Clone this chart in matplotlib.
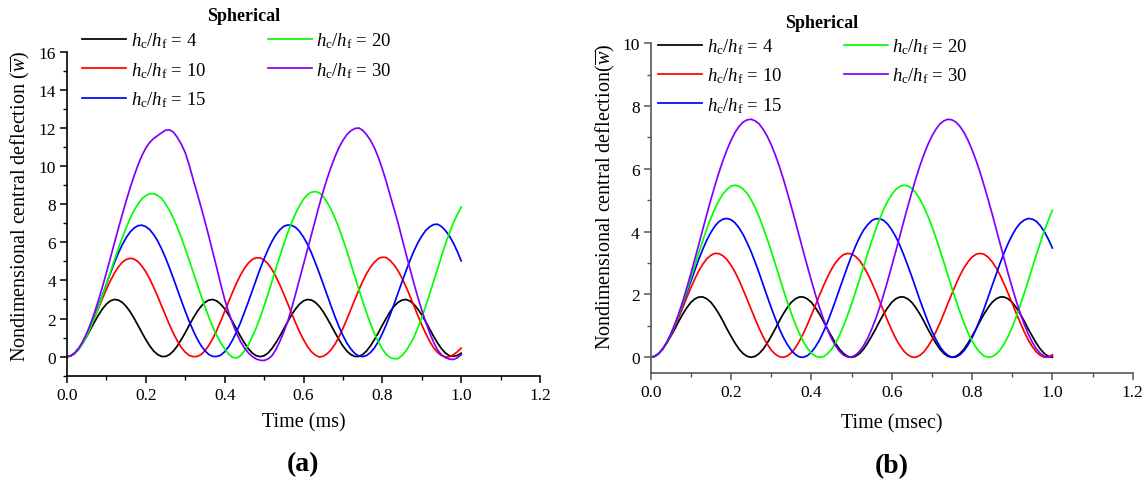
import numpy as np
import matplotlib
matplotlib.use('Agg')
import matplotlib.pyplot as plt
from matplotlib.ticker import MultipleLocator

# sample times (ms), one value every 0.01
TIME = np.linspace(0.0, 1.0, 101)

COLORS = {4: '#000000', 10: '#ff0000', 15: '#0000ff', 20: '#00ff00', 30: '#8000ff'}

# (a) nondimensional central deflection
a_w4 = [0, 0.05, 0.19, 0.42, 0.72, 1.07, 1.45, 1.83, 2.19, 2.51, 2.76, 2.93, 3.00, 2.97,
        2.85, 2.64, 2.36, 2.02, 1.64, 1.26, 0.89, 0.56, 0.29, 0.11, 0.01, 0.01, 0.11, 0.30,
        0.57, 0.90, 1.26, 1.65, 2.02, 2.36, 2.64, 2.85, 2.97, 3.00, 2.92, 2.75, 2.51, 2.19,
        1.83, 1.45, 1.07, 0.72, 0.42, 0.19, 0.05, 0.0, 0.05, 0.19, 0.43, 0.73, 1.08, 1.46,
        1.84, 2.20, 2.51, 2.76, 2.93, 3.00, 2.97, 2.85, 2.64, 2.36, 2.01, 1.64, 1.26, 0.89,
        0.56, 0.29, 0.11, 0.01, 0.01, 0.11, 0.30, 0.57, 0.90, 1.26, 1.65, 2.02, 2.37, 2.65,
        2.85, 2.97, 3.00, 2.92, 2.75, 2.50, 2.19, 1.83, 1.45, 1.07, 0.72, 0.42, 0.19, 0.05,
        0.02, 0.06, 0.18]
a_w10 = [0, 0.05, 0.19, 0.43, 0.75, 1.13, 1.58, 2.06, 2.55, 3.06, 3.54, 3.98, 4.38, 4.70,
         4.95, 5.10, 5.16, 5.12, 4.99, 4.75, 4.45, 4.07, 3.63, 3.16, 2.66, 2.16, 1.67, 1.22,
         0.82, 0.48, 0.23, 0.07, 0.0, 0.01, 0.11, 0.31, 0.60, 0.96, 1.39, 1.87, 2.37, 2.88,
         3.38, 3.86, 4.28, 4.63, 4.91, 5.10, 5.19, 5.18, 5.07, 4.87, 4.57, 4.20, 3.76, 3.28,
         2.78, 2.27, 1.77, 1.30, 0.89, 0.53, 0.26, 0.08, -0.02, 0.02, 0.15, 0.36, 0.66, 1.04,
         1.48, 1.97, 2.47, 2.99, 3.48, 3.95, 4.36, 4.70, 4.96, 5.15, 5.22, 5.20, 5.04, 4.81,
         4.50, 4.11, 3.67, 3.18, 2.68, 2.16, 1.67, 1.22, 0.81, 0.47, 0.22, 0.06, -0.02, -0.01,
         0.10, 0.25, 0.45]
a_w15 = [0, 0.05, 0.19, 0.43, 0.75, 1.14, 1.60, 2.12, 2.66, 3.23, 3.81, 4.38, 4.92, 5.42,
         5.87, 6.24, 6.54, 6.75, 6.87, 6.90, 6.82, 6.66, 6.40, 6.07, 5.65, 5.18, 4.65, 4.10,
         3.52, 2.94, 2.38, 1.85, 1.37, 0.94, 0.58, 0.31, 0.11, 0.01, 0.01, 0.08, 0.26, 0.52,
         0.87, 1.30, 1.78, 2.32, 2.88, 3.46, 4.04, 4.61, 5.14, 5.62, 6.05, 6.40, 6.66, 6.84,
         6.91, 6.89, 6.78, 6.57, 6.27, 5.90, 5.45, 4.93, 4.38, 3.81, 3.23, 2.65, 2.09, 1.57,
         1.11, 0.71, 0.41, 0.17, 0.04, 0.0, 0.06, 0.22, 0.46, 0.80, 1.21, 1.68, 2.21, 2.77,
         3.35, 3.93, 4.50, 5.04, 5.54, 5.97, 6.33, 6.62, 6.81, 6.93, 6.95, 6.83, 6.62, 6.34,
         5.97, 5.53, 5.03]
a_w20 = [0, 0.05, 0.18, 0.40, 0.71, 1.09, 1.55, 2.05, 2.60, 3.20, 3.81, 4.44, 5.06, 5.66,
         6.24, 6.77, 7.25, 7.67, 8.01, 8.28, 8.45, 8.55, 8.55, 8.46, 8.30, 8.01, 7.67, 7.26,
         6.77, 6.25, 5.66, 5.06, 4.43, 3.82, 3.20, 2.61, 2.05, 1.55, 1.10, 0.72, 0.41, 0.14,
         -0.04, -0.07, 0.05, 0.30, 0.62, 1.05, 1.51, 2.06, 2.65, 3.29, 3.95, 4.63, 5.27, 5.92,
         6.50, 7.05, 7.52, 7.93, 8.26, 8.50, 8.63, 8.66, 8.60, 8.40, 8.10, 7.72, 7.26, 6.75,
         6.15, 5.54, 4.88, 4.22, 3.55, 2.92, 2.30, 1.73, 1.20, 0.78, 0.40, 0.12, -0.05, -0.11,
         -0.10, 0.06, 0.30, 0.64, 1.02, 1.51, 2.05, 2.65, 3.29, 3.95, 4.60, 5.27, 5.90, 6.47,
         7.00, 7.45, 7.85]
a_w30 = [0, 0.05, 0.20, 0.45, 0.80, 1.23, 1.74, 2.33, 2.98, 3.68, 4.41, 5.18, 5.95, 6.71,
         7.45, 8.17, 8.85, 9.48, 10.05, 10.55, 10.95, 11.25, 11.45, 11.60, 11.75, 11.88, 11.90,
         11.78, 11.50, 11.15, 10.70, 10.05, 9.30, 8.58, 7.85, 7.08, 6.30, 5.47, 4.65, 3.80,
         3.00, 2.33, 1.75, 1.23, 0.80, 0.46, 0.20, 0.01, -0.12, -0.19, -0.20, -0.12, 0.05,
         0.38, 0.80, 1.30, 1.85, 2.55, 3.30, 4.07, 4.85, 5.62, 6.40, 7.18, 7.95, 8.68, 9.35,
         9.95, 10.50, 10.97, 11.35, 11.65, 11.85, 11.97, 12.00, 11.88, 11.65, 11.35, 10.95,
         10.45, 9.85, 9.18, 8.45, 7.73, 7.00, 6.20, 5.40, 4.62, 3.85, 3.12, 2.45, 1.82, 1.25,
         0.76, 0.35, 0.10, -0.05, -0.13, -0.15, -0.06, 0.10]

# (b) nondimensional central deflection
b_w4 = [0, 0.03, 0.12, 0.26, 0.45, 0.67, 0.90, 1.15, 1.38, 1.58, 1.75, 1.86, 1.92, 1.92,
        1.86, 1.75, 1.58, 1.38, 1.15, 0.90, 0.67, 0.45, 0.26, 0.12, 0.03, 0.0, 0.03, 0.12,
        0.26, 0.45, 0.67, 0.90, 1.15, 1.38, 1.58, 1.75, 1.86, 1.92, 1.92, 1.86, 1.75, 1.58,
        1.38, 1.15, 0.90, 0.67, 0.45, 0.26, 0.12, 0.03, 0.0, 0.03, 0.12, 0.26, 0.45, 0.67,
        0.90, 1.15, 1.38, 1.58, 1.75, 1.86, 1.92, 1.92, 1.86, 1.75, 1.58, 1.38, 1.15, 0.90,
        0.67, 0.45, 0.26, 0.12, 0.03, 0.0, 0.03, 0.12, 0.26, 0.45, 0.67, 0.90, 1.15, 1.38,
        1.58, 1.75, 1.86, 1.92, 1.92, 1.86, 1.75, 1.58, 1.38, 1.15, 0.90, 0.67, 0.45, 0.26,
        0.12, 0.03, 0.0]
b_w10 = [0, 0.03, 0.12, 0.27, 0.46, 0.70, 0.98, 1.28, 1.59, 1.91, 2.21, 2.50, 2.76, 2.97,
         3.14, 3.25, 3.31, 3.30, 3.23, 3.11, 2.93, 2.71, 2.45, 2.15, 1.85, 1.53, 1.22, 0.92,
         0.65, 0.42, 0.23, 0.10, 0.02, 0.0, 0.04, 0.14, 0.30, 0.51, 0.76, 1.04, 1.34, 1.65,
         1.97, 2.27, 2.55, 2.80, 3.01, 3.16, 3.27, 3.31, 3.29, 3.21, 3.08, 2.89, 2.66, 2.39,
         2.09, 1.78, 1.47, 1.16, 0.87, 0.60, 0.38, 0.20, 0.08, 0.01, 0.0, 0.06, 0.17, 0.34,
         0.55, 0.81, 1.09, 1.40, 1.72, 2.03, 2.33, 2.61, 2.85, 3.04, 3.19, 3.28, 3.31, 3.28,
         3.19, 3.04, 2.85, 2.61, 2.33, 2.03, 1.72, 1.40, 1.10, 0.81, 0.55, 0.34, 0.17, 0.06,
         0.0, 0.01, 0.08]
b_w15 = [0, 0.03, 0.12, 0.27, 0.47, 0.72, 1.02, 1.34, 1.69, 2.05, 2.42, 2.78, 3.13, 3.45,
         3.74, 3.98, 4.18, 4.32, 4.40, 4.42, 4.38, 4.28, 4.12, 3.91, 3.65, 3.36, 3.03, 2.68,
         2.31, 1.94, 1.58, 1.24, 0.92, 0.64, 0.41, 0.22, 0.09, 0.01, 0.0, 0.05, 0.16, 0.33,
         0.54, 0.81, 1.11, 1.45, 1.80, 2.17, 2.53, 2.89, 3.23, 3.54, 3.82, 4.05, 4.22, 4.35,
         4.41, 4.41, 4.36, 4.24, 4.06, 3.84, 3.57, 3.26, 2.92, 2.57, 2.20, 1.83, 1.48, 1.14,
         0.83, 0.57, 0.34, 0.17, 0.06, 0.0, 0.01, 0.08, 0.21, 0.39, 0.62, 0.90, 1.21, 1.55,
         1.91, 2.28, 2.64, 3.00, 3.33, 3.63, 3.89, 4.11, 4.27, 4.37, 4.42, 4.40, 4.33, 4.19,
         4.00, 3.76, 3.48]
b_w20 = [0, 0.03, 0.12, 0.27, 0.47, 0.73, 1.03, 1.36, 1.73, 2.12, 2.53, 2.93, 3.34, 3.73,
         4.10, 4.44, 4.74, 4.99, 5.20, 5.35, 5.45, 5.48, 5.45, 5.36, 5.22, 5.02, 4.77, 4.47,
         4.13, 3.77, 3.38, 2.98, 2.57, 2.16, 1.77, 1.40, 1.06, 0.76, 0.50, 0.29, 0.13, 0.04,
         0.0, 0.02, 0.11, 0.25, 0.45, 0.70, 0.99, 1.33, 1.69, 2.08, 2.48, 2.89, 3.30, 3.69,
         4.06, 4.40, 4.71, 4.97, 5.18, 5.34, 5.44, 5.48, 5.46, 5.38, 5.24, 5.04, 4.79, 4.50,
         4.17, 3.81, 3.42, 3.02, 2.61, 2.20, 1.81, 1.44, 1.09, 0.78, 0.52, 0.31, 0.15, 0.04,
         0.0, 0.02, 0.10, 0.24, 0.43, 0.67, 0.96, 1.29, 1.66, 2.04, 2.44, 2.85, 3.26, 3.65,
         4.03, 4.37, 4.68]
b_w30 = [0, 0.03, 0.12, 0.27, 0.48, 0.74, 1.05, 1.40, 1.79, 2.22, 2.66, 3.13, 3.61, 4.09,
         4.57, 5.03, 5.47, 5.89, 6.27, 6.61, 6.91, 7.16, 7.35, 7.49, 7.56, 7.58, 7.53, 7.43,
         7.26, 7.04, 6.77, 6.45, 6.09, 5.69, 5.25, 4.80, 4.33, 3.85, 3.37, 2.90, 2.44, 2.00,
         1.59, 1.22, 0.89, 0.60, 0.37, 0.19, 0.07, 0.01, 0.01, 0.07, 0.19, 0.37, 0.60, 0.89,
         1.22, 1.59, 2.00, 2.44, 2.90, 3.37, 3.85, 4.33, 4.80, 5.25, 5.69, 6.09, 6.45, 6.77,
         7.04, 7.26, 7.43, 7.53, 7.58, 7.56, 7.49, 7.35, 7.16, 6.91, 6.61, 6.27, 5.89, 5.47,
         5.03, 4.57, 4.09, 3.61, 3.13, 2.66, 2.22, 1.79, 1.40, 1.05, 0.74, 0.48, 0.27, 0.12,
         0.03, 0.0, 0.03]

SERIES_A = {4: a_w4, 10: a_w10, 15: a_w15, 20: a_w20, 30: a_w30}
SERIES_B = {4: b_w4, 10: b_w10, 15: b_w15, 20: b_w20, 30: b_w30}

plt.rcParams['font.family'] = ['Liberation Serif', 'DejaVu Serif']
plt.rcParams['mathtext.fontset'] = 'custom'
plt.rcParams['mathtext.rm'] = 'Liberation Serif'
plt.rcParams['mathtext.it'] = 'Liberation Serif:italic'
plt.rcParams['mathtext.bf'] = 'Liberation Serif:bold'


def draw_panel(ax, series, ymin, ymax, spine_color):
    # legend order: first column 4, 10, 15 then 20, 30
    for r in [4, 10, 15, 20, 30]:
        ax.plot(TIME, series[r], color=COLORS[r], lw=1.25,
                label=r'$h_\mathrm{c}/h_\mathrm{f}$' + f' = {r}')
    ax.set_xlim(0, 1.2)
    ax.set_ylim(ymin, ymax)
    ax.xaxis.set_major_locator(MultipleLocator(0.2))
    ax.xaxis.set_minor_locator(MultipleLocator(0.1))
    ax.yaxis.set_major_locator(MultipleLocator(2))
    ax.yaxis.set_minor_locator(MultipleLocator(1))
    ax.xaxis.set_major_formatter(plt.FormatStrFormatter('%.1f'))
    for side in ['top', 'right']:
        ax.spines[side].set_visible(False)
    for side in ['left', 'bottom']:
        ax.spines[side].set_color(spine_color)
        ax.spines[side].set_linewidth(1.2)
    ax.tick_params(which='major', direction='out', length=5, width=1.1,
                   labelsize=12.5, color=spine_color, pad=3)
    ax.tick_params(which='minor', direction='out', length=3, width=1.0,
                   color=spine_color)


fig = plt.figure(figsize=(11.46, 4.81), dpi=100)
ax1 = fig.add_axes([0.0585, 0.2168, 0.4127, 0.6736])
ax2 = fig.add_axes([0.5678, 0.2225, 0.4206, 0.6855])

draw_panel(ax1, SERIES_A, -1, 16, '#000000')
draw_panel(ax2, SERIES_B, -0.5, 10, '#555555')

ax1.set_xlabel('Time (ms)', fontsize=14.5)
ax2.set_xlabel('Time (msec)', fontsize=14.5)
ax1.set_ylabel(r'Nondimensional central deflection ($\overline{w}$)', fontsize=14.5)
ax2.set_ylabel(r'Nondimensional central deflection($\overline{w}$)', fontsize=14.5)
ax1.xaxis.set_label_coords(0.5, -0.112)
ax2.xaxis.set_label_coords(0.5, -0.122)
ax1.yaxis.set_label_coords(-0.074, 0.527)
ax2.yaxis.set_label_coords(-0.069, 0.536)

leg_kw = dict(ncol=2, frameon=False, fontsize=13.5, borderpad=0, borderaxespad=0,
              handlelength=2.35, handletextpad=0.25, columnspacing=3.3,
              labelspacing=0.51, loc='upper left', bbox_transform=fig.transFigure)
ax1.legend(bbox_to_anchor=(0.0716, 0.934), **leg_kw)
ax2.legend(bbox_to_anchor=(0.5742, 0.922), **leg_kw)

fig.text(0.2129, 0.9647, 'Spherical', ha='center', va='center',
         fontsize=13, fontweight='bold')
fig.text(0.7173, 0.952, 'Spherical', ha='center', va='center',
         fontsize=13, fontweight='bold')
fig.text(0.2644, 0.035, '(a)', ha='center', va='center',
         fontsize=20, fontweight='bold')
fig.text(0.7784, 0.030, '(b)', ha='center', va='center',
         fontsize=20, fontweight='bold')

fig.savefig('out.png', dpi=100)
plt.close(fig)
